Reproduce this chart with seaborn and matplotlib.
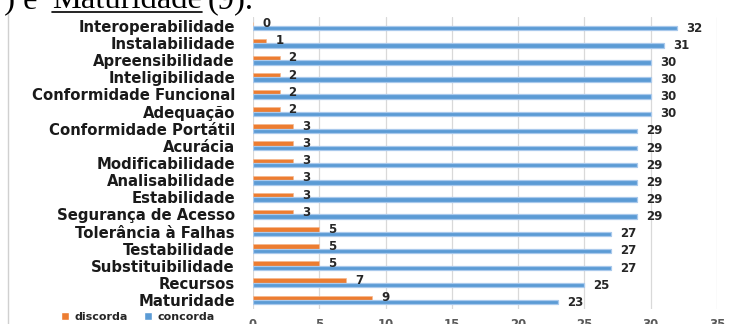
import matplotlib
matplotlib.use("Agg")
import matplotlib.pyplot as plt
from matplotlib.lines import Line2D
import seaborn as sns
import pandas as pd

categorias = ["Interoperabilidade", "Instalabilidade", "Apreensibilidade", "Inteligibilidade",
              "Conformidade Funcional", "Adequação", "Conformidade Portátil", "Acurácia",
              "Modificabilidade", "Analisabilidade", "Estabilidade", "Segurança de Acesso",
              "Tolerância à Falhas", "Testabilidade", "Substituibilidade", "Recursos", "Maturidade"]
discorda = [0, 1, 2, 2, 2, 2, 3, 3, 3, 3, 3, 3, 5, 5, 5, 7, 9]
concorda = [32, 31, 30, 30, 30, 30, 29, 29, 29, 29, 29, 29, 27, 27, 27, 25, 23]
series = ["discorda", "concorda"]
xticks = [0, 5, 10, 15, 20, 25, 30, 35]

df = pd.DataFrame({
    "cat": categorias * 2,
    "val": discorda + concorda,
    "serie": [series[0]] * len(categorias) + [series[1]] * len(categorias),
})

sns.set_style("white")
plt.rcParams["font.family"] = ["DejaVu Sans"]

W, H = 729, 324
fig = plt.figure(figsize=(W / 100, H / 100), dpi=100)
left, right, top, bottom = 253, 717, 17.4, 308.6
ax = fig.add_axes([left / W, 1 - bottom / H, (right - left) / W, (bottom - top) / H])

pal = {"discorda": "#ED7D31", "concorda": "#5B9BD5"}
sns.barplot(data=df, y="cat", x="val", hue="serie", hue_order=series, order=categorias,
            orient="h", palette=pal, width=0.52, ax=ax, saturation=1, legend=True)

# soft glow edges
for patch in ax.containers[0]:
    patch.set_edgecolor("#F6B88E")
    patch.set_linewidth(0.5)
for patch in ax.containers[1]:
    patch.set_edgecolor("#A9C9EC")
    patch.set_linewidth(0.9)

for cont in ax.containers:
    ax.bar_label(cont, padding=6.5, fontsize=8.5, fontweight="bold", color="#262626")

ax.set_xlim(0, 35)
ax.set_xticks(xticks)
ax.set_xlabel("")
ax.set_ylabel("")
ax.grid(axis="x", color="#D9D9D9", linewidth=0.9)
ax.grid(axis="y", visible=False)
ax.set_axisbelow(True)
for s in ax.spines.values():
    s.set_visible(False)
ax.tick_params(axis="y", length=0, pad=13)
ax.tick_params(axis="x", length=0, pad=7, colors="#595959")
for lab in ax.get_yticklabels():
    lab.set_fontsize(10.7)
    lab.set_fontweight("bold")
    lab.set_color("#1A1A1A")
for lab in ax.get_xticklabels():
    lab.set_fontsize(8.5)
    lab.set_fontweight("bold")

handles, labels = ax.get_legend_handles_labels()
ax.get_legend().remove()
leg = fig.legend(handles, labels, loc="center left", bbox_to_anchor=(61 / W, 1 - 317 / H),
                 ncol=2, frameon=False, borderpad=0, borderaxespad=0,
                 handlelength=0.7, handleheight=0.7, handletextpad=0.55,
                 columnspacing=1.4, prop={"weight": "bold", "size": 8})
for t in leg.get_texts():
    t.set_color("#262626")

# surrounding document frame line
fig.add_artist(Line2D([7.5 / W, 7.5 / W], [0, 1 - 13 / H], transform=fig.transFigure,
                      color="#D0D0D0", linewidth=1))

# document text cut at the top
serif = dict(family=["Liberation Serif", "DejaVu Serif"], size=23.4, color="black",
             va="baseline", ha="left")
base = 1 - 8 / H
fig.text(-12 / W, base, "7) e", transform=fig.transFigure, **serif)
fig.text(52 / W, base, "Maturidade", transform=fig.transFigure, **serif)
fig.text(208 / W, base, "(9).", transform=fig.transFigure, **serif)
fig.add_artist(Line2D([52 / W, 202 / W], [1 - 11.5 / H, 1 - 11.5 / H],
                      transform=fig.transFigure, color="black", linewidth=1.2))

fig.savefig("out.png", dpi=100)
